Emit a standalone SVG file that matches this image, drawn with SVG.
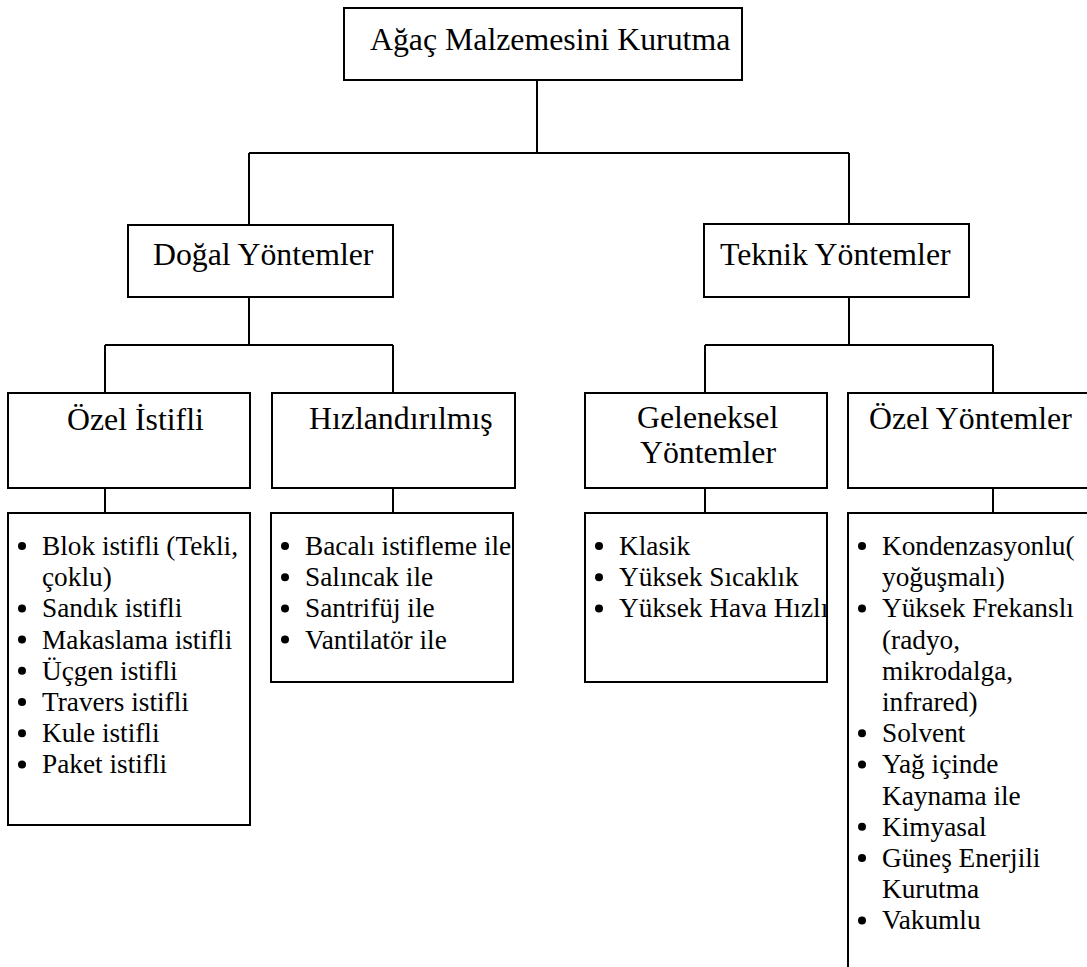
<svg xmlns="http://www.w3.org/2000/svg" width="1087" height="967" viewBox="0 0 1087 967">
<style>
.box{fill:#fff;stroke:#000;stroke-width:2}
.ln{fill:none;stroke:#000;stroke-width:2}
.h{font-family:"Liberation Serif","Times New Roman",serif;font-size:31.8px;fill:#000}
.t{font-family:"Liberation Serif","Times New Roman",serif;font-size:27.3px;fill:#000}
.b{fill:#000}
</style>
<rect width="1087" height="967" fill="#fff"/>
<g id="connectors">
<path class="ln" d="M537,80V153M249,153H849M249,153V225M849,153V224"/>
<path class="ln" d="M249,297V345M105,345H393M105,345V393M393,345V393"/>
<path class="ln" d="M849,297V345M705,345H993M705,345V393M993,345V393"/>
<path class="ln" d="M105,488V513M393,488V513M705,488V513M993,488V513"/>
</g>
<g id="root">
<rect class="box" x="344" y="8" width="398" height="72"/>
<text class="h" x="370" y="50">Ağaç Malzemesini Kurutma</text>
</g>
<g id="dogal">
<rect class="box" x="128" y="225" width="265" height="72"/>
<text class="h" x="153" y="265">Doğal Yöntemler</text>
</g>
<g id="teknik">
<rect class="box" x="704" y="224" width="265" height="73"/>
<text class="h" x="720" y="265">Teknik Yöntemler</text>
</g>
<g id="ozel-istifli">
<rect class="box" x="8" y="393" width="242" height="95"/>
<text class="h" x="67" y="430">Özel İstifli</text>
</g>
<g id="hizlandirilmis">
<rect class="box" x="272" y="393" width="243" height="95"/>
<text class="h" x="309" y="429">Hızlandırılmış</text>
</g>
<g id="geleneksel">
<rect class="box" x="585" y="393" width="242" height="95"/>
<text class="h" x="637" y="428">Geleneksel</text>
<text class="h" x="640" y="463">Yöntemler</text>
</g>
<g id="ozel-yontemler">
<rect class="box" x="848" y="393" width="260" height="95"/>
<text class="h" x="869" y="429">Özel Yöntemler</text>
</g>
<g id="list-ozel-istifli">
<rect class="box" x="8" y="513" width="242" height="312"/>
<circle class="b" cx="22" cy="546" r="4"/><text class="t" x="42" y="555">Blok istifli (Tekli,</text>
<text class="t" x="42" y="586.2">çoklu)</text>
<circle class="b" cx="22" cy="608.4" r="4"/><text class="t" x="42" y="617.4">Sandık istifli</text>
<circle class="b" cx="22" cy="639.6" r="4"/><text class="t" x="42" y="648.6">Makaslama istifli</text>
<circle class="b" cx="22" cy="670.8" r="4"/><text class="t" x="42" y="679.8">Üçgen istifli</text>
<circle class="b" cx="22" cy="702" r="4"/><text class="t" x="42" y="711">Travers istifli</text>
<circle class="b" cx="22" cy="733.2" r="4"/><text class="t" x="42" y="742.2">Kule istifli</text>
<circle class="b" cx="22" cy="764.4" r="4"/><text class="t" x="42" y="773.4">Paket istifli</text>
</g>
<g id="list-hizlandirilmis">
<rect class="box" x="271" y="513" width="242" height="169"/>
<circle class="b" cx="285" cy="546" r="4"/><text class="t" x="305" y="555">Bacalı istifleme ile</text>
<circle class="b" cx="285" cy="577.2" r="4"/><text class="t" x="305" y="586.2">Salıncak ile</text>
<circle class="b" cx="285" cy="608.4" r="4"/><text class="t" x="305" y="617.4">Santrifüj ile</text>
<circle class="b" cx="285" cy="639.6" r="4"/><text class="t" x="305" y="648.6">Vantilatör ile</text>
</g>
<g id="list-geleneksel">
<rect class="box" x="585" y="513" width="242" height="169"/>
<circle class="b" cx="599" cy="546" r="4"/><text class="t" x="619" y="555">Klasik</text>
<circle class="b" cx="599" cy="577.2" r="4"/><text class="t" x="619" y="586.2">Yüksek Sıcaklık</text>
<circle class="b" cx="599" cy="608.4" r="4"/><text class="t" x="619" y="617.4">Yüksek Hava Hızlı</text>
</g>
<g id="list-ozel-yontemler">
<rect class="box" x="848" y="513" width="260" height="470"/>
<circle class="b" cx="862" cy="546" r="4"/><text class="t" x="882" y="555">Kondenzasyonlu(</text>
<text class="t" x="882" y="586.2">yoğuşmalı)</text>
<circle class="b" cx="862" cy="608.4" r="4"/><text class="t" x="882" y="617.4">Yüksek Frekanslı</text>
<text class="t" x="882" y="648.6">(radyo,</text>
<text class="t" x="882" y="679.8">mikrodalga,</text>
<text class="t" x="882" y="711">infrared)</text>
<circle class="b" cx="862" cy="733.2" r="4"/><text class="t" x="882" y="742.2">Solvent</text>
<circle class="b" cx="862" cy="764.4" r="4"/><text class="t" x="882" y="773.4">Yağ içinde</text>
<text class="t" x="882" y="804.6">Kaynama ile</text>
<circle class="b" cx="862" cy="826.8" r="4"/><text class="t" x="882" y="835.8">Kimyasal</text>
<circle class="b" cx="862" cy="858" r="4"/><text class="t" x="882" y="867">Güneş Enerjili</text>
<text class="t" x="882" y="898.2">Kurutma</text>
<circle class="b" cx="862" cy="920.4" r="4"/><text class="t" x="882" y="929.4">Vakumlu</text>
</g>
</svg>
